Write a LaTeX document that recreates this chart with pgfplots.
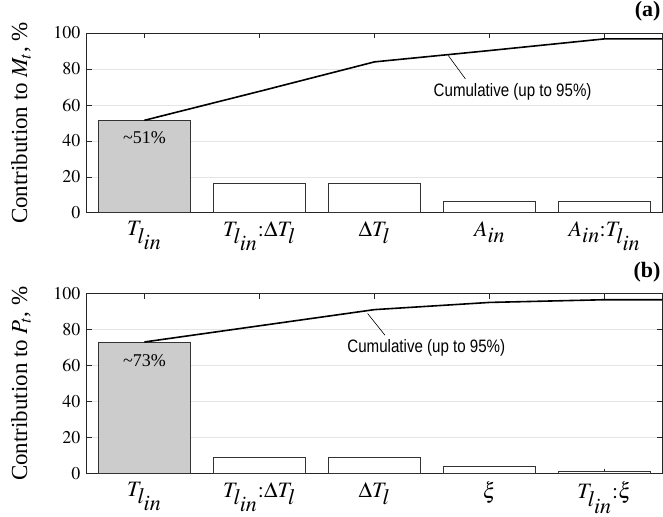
\documentclass[border=0pt]{standalone}
\usepackage{mathptmx}
\usepackage[no-math]{fontspec}
\setmainfont{Liberation Serif}
\newfontfamily\narrowsans[FakeStretch=0.84]{Liberation Sans}
\usepackage{pgfplots}
\pgfplotsset{compat=1.18}
\newcommand{\Tlin}{T_{\textstyle l_{\textstyle in}}}
\newcommand{\Ain}{A_{\textstyle in}}
\newcommand{\Dtl}{\Delta T_{\textstyle l}}
\begin{document}
\begin{tikzpicture}
\pgfplotsset{
  paretostyle/.style={
    width=576pt, height=180pt, scale only axis,
    xmin=0.5, xmax=5.5, ymin=0, ymax=100,
    xtick={1,2,3,4,5},
    ytick={0,20,40,60,80,100},
    ymajorgrids, grid style={gray!20, line width=0.8pt},
    axis line style={black!85, line width=1pt},
    tick style={black!85, line width=0.8pt},
    major tick length=5pt,
    tick label style={font=\fontsize{18}{20}\selectfont},
    yticklabel style={xshift=-3pt},
    xticklabel style={font=\fontsize{22}{24}\selectfont, yshift=-5pt},
    every axis y label/.style={at={([xshift=-66pt]axis description cs:0,0.5)}, rotate=90, anchor=center,
       font=\fontsize{23}{25}\selectfont},
    clip=false,
  }
}
% ---------- (a) ----------
\begin{axis}[paretostyle,
  xticklabels={$\Tlin$, $\Tlin\mathrm{:}\Dtl$, $\Dtl$, $\Ain$, $\Ain\mathrm{:}\Tlin$},
  ylabel={Contribution to $M_t$, \%}]
\addplot[ybar, bar width=0.8, bar shift=0pt, fill=black!20, draw=black!80, line width=0.9pt] coordinates {(1,51.5)};
\addplot[ybar, bar width=0.8, bar shift=0pt, fill=white, draw=black!80, line width=0.9pt] coordinates {(2,16.3)(3,16.3)(4,6.5)(5,6.5)};
\addplot[black, line width=1.6pt] coordinates {(1,51.5)(2,67.6)(3,84)(4,90.3)(5,96.8)(5.5,96.8)};
\addplot[black, line width=0.6pt] coordinates {(3.64,87.6)(3.79,74.5)};
\node[font=\narrowsans\fontsize{18}{20}\selectfont] at (axis cs:4.2,67.5) {Cumulative (up to 95\%)};
\node[font=\fontsize{18}{20}\selectfont] at (axis cs:1,42) {\textasciitilde 51\%};
\node[font=\bfseries\fontsize{22}{24}\selectfont, anchor=south east, inner sep=1.5pt, yshift=10pt] at (rel axis cs:1,1) {(a)};
\path ([xshift=-87pt]rel axis cs:0,0.5) -- (rel axis cs:0,0.5);
\end{axis}
% ---------- (b) ----------
\begin{axis}[paretostyle, at={(0,-261pt)},
  xticklabels={$\Tlin$, $\Tlin\mathrm{:}\Dtl$, $\Dtl$, $\xi$, $\Tlin\mathrm{:}\xi$},
  ylabel={Contribution to $P_t$, \%}]
\addplot[ybar, bar width=0.8, bar shift=0pt, fill=black!20, draw=black!80, line width=0.9pt] coordinates {(1,73.2)};
\addplot[ybar, bar width=0.8, bar shift=0pt, fill=white, draw=black!80, line width=0.9pt] coordinates {(2,9)(3,9)(4,3.7)(5,1.3)};
\addplot[black, line width=1.6pt] coordinates {(1,73.2)(2,82.2)(3,91.2)(4,95.2)(5,96.7)(5.5,96.7)};
\addplot[black, line width=0.6pt] coordinates {(2.94,89)(3.09,77)};
\node[font=\narrowsans\fontsize{18}{20}\selectfont] at (axis cs:3.45,69.7) {Cumulative (up to 95\%)};
\node[font=\fontsize{18}{20}\selectfont] at (axis cs:1,63) {\textasciitilde 73\%};
\node[font=\bfseries\fontsize{22}{24}\selectfont, anchor=south east, inner sep=1.5pt, yshift=10pt] at (rel axis cs:1,1) {(b)};
\end{axis}
\end{tikzpicture}
\end{document}
